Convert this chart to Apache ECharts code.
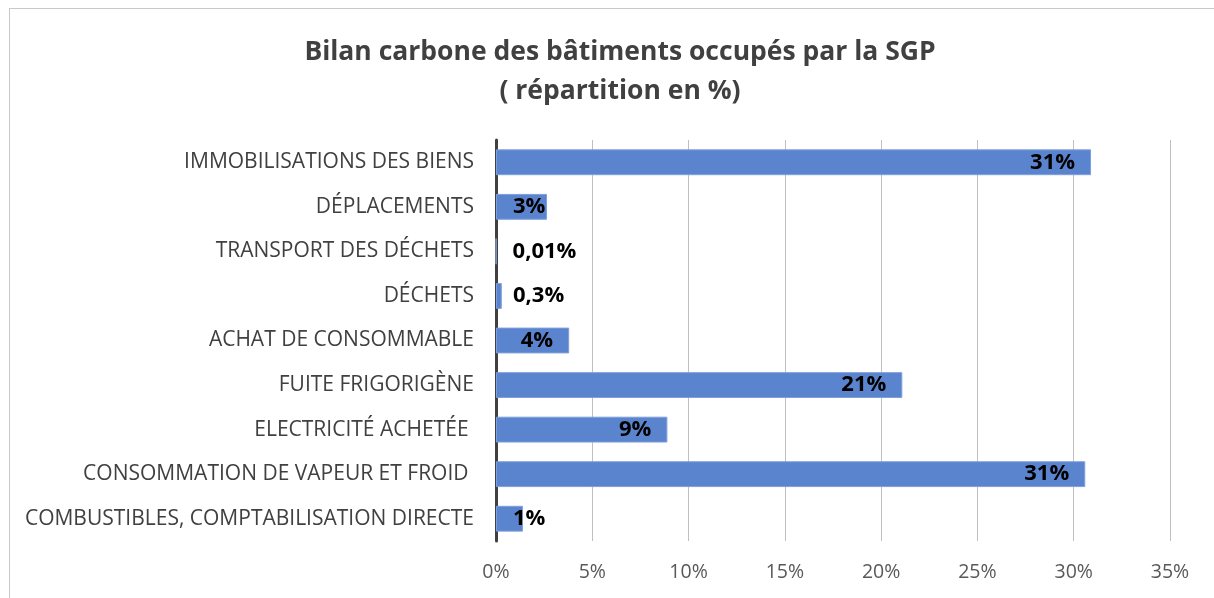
<!DOCTYPE html>
<html>
<head>
<meta charset="utf-8">
<script src="https://cdn.jsdelivr.net/npm/echarts@6/dist/echarts.min.js"></script>
<style>
  html, body { margin: 0; padding: 0; background: #fff; }
  #frame { position: absolute; left: 9px; top: 8px; width: 1300px; height: 700px; border: 1px solid #c8c8c8; }
  #chart { position: absolute; left: 0; top: 0; width: 1214px; height: 598px; }
</style>
</head>
<body>
<div id="frame"></div>
<div id="chart"></div>
<script>
// catégories, du bas vers le haut
const categories = [
    'COMBUSTIBLES, COMPTABILISATION DIRECTE',
    'CONSOMMATION DE VAPEUR ET FROID ',
    'ELECTRICITÉ ACHETÉE ',
    'FUITE FRIGORIGÈNE',
    'ACHAT DE CONSOMMABLE',
    'DÉCHETS',
    'TRANSPORT DES DÉCHETS',
    'DÉPLACEMENTS',
    'IMMOBILISATIONS DES BIENS'
]
const values = [1.4, 30.6, 8.9, 21.1, 3.8, 0.3, 0.01, 2.65, 30.9]
const valueLabels = ['1%', '31%', '9%', '21%', '4%', '0,3%', '0,01%', '3%', '31%']
const xTicks = [0, 5, 10, 15, 20, 25, 30, 35]

let chart = echarts.init(document.getElementById('chart'))

const data = values.map((v, i) => ({
    value: v,
    label: v < 3.5
        ? { position: 'insideLeft', distance: 17 }
        : { position: 'insideRight', distance: 16 }
}))

let option = {
    animation: false,
    title: {
        text: 'Bilan carbone des bâtiments occupés par la SGP\n( répartition en %)',
        left: 615,
        top: 28,
        textAlign: 'center',
        textStyle: {
            fontFamily: 'Open Sans',
            fontWeight: 'bold',
            fontSize: 26.5,
            lineHeight: 39,
            color: '#404040'
        }
    },
    grid: { left: 496, right: 44, top: 140, bottom: 57 },
    xAxis: {
        type: 'value',
        min: xTicks[0],
        max: xTicks[xTicks.length - 1],
        interval: 5,
        axisLine: { show: false },
        axisTick: { show: false },
        axisLabel: {
            formatter: v => v + '%',
            fontFamily: 'Open Sans',
            fontSize: 19.5,
            color: '#595959',
            margin: 21
        },
        splitLine: { lineStyle: { color: '#bfbfbf', width: 1 } }
    },
    yAxis: {
        type: 'category',
        data: categories,
        axisLine: { lineStyle: { color: '#404040', width: 3 } },
        axisTick: { show: false },
        axisLabel: {
            fontFamily: 'Open Sans',
            fontSize: 21,
            color: '#404040',
            margin: 22
        }
    },
    series: [{
        type: 'bar',
        data,
        barCategoryGap: '42%',
        itemStyle: { color: '#5b84cf', borderColor: '#7f9fdc', borderWidth: 1 },
        label: {
            show: true,
            formatter: p => valueLabels[p.dataIndex],
            fontFamily: 'Open Sans',
            fontWeight: 'bold',
            fontSize: 22,
            color: '#000'
        }
    }]
}

chart.setOption(option)
</script>
</body>
</html>
